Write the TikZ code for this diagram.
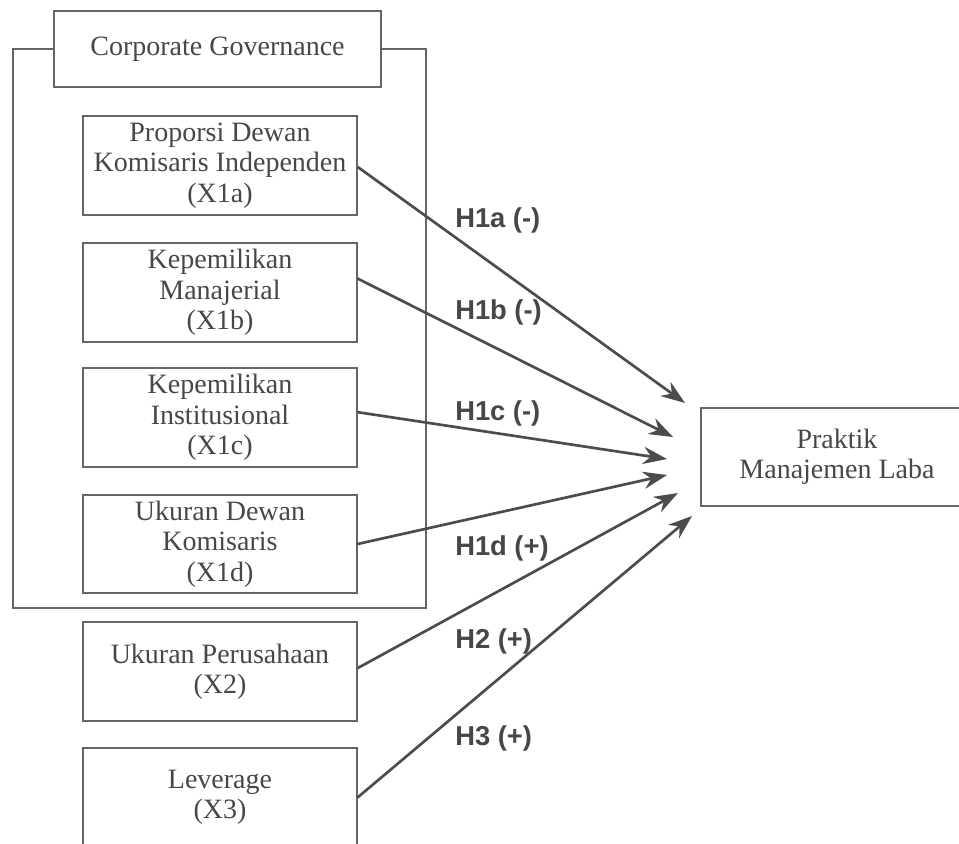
\documentclass[tikz,border=0pt]{standalone}
\usepackage{fontspec}
\setmainfont{Liberation Serif}
\newfontfamily\hypfont{Liberation Sans}
\usetikzlibrary{arrows.meta}

\tikzset{
  varbox/.style={draw=\BOXCOLOR, line width=1.3pt, fill=white, minimum width=205pt, minimum height=74pt,
    inner sep=0pt, align=center, text=\TEXTCOLOR, font=\fontsize{21}{22.8}\selectfont},
  hyplabel/.style={anchor=west, inner sep=0pt, text=\TEXTCOLOR, font=\hypfont\bfseries\fontsize{20.5}{22}\selectfont},
  hyparrow/.style={draw=\LINECOLOR, line width=2pt, -{Stealth[length=18pt,width=13pt]}}
}

\begin{document}
\begin{tikzpicture}[x=0.75pt,y=-0.75pt]

\def\BOXCOLOR{black!60}
\def\TEXTCOLOR{black!72}
\def\LINECOLOR{black!70}
	\clip (0,0) rectangle (959,843);
	\fill[white] (0,0) rectangle (959,843);

	% group frame and its title
	\draw[\BOXCOLOR,line width=1.3pt] (13,49) rectangle (426,608);
	\node[varbox, minimum width=245pt, minimum height=57pt] (cg) at (217.5,49) {Corporate Governance};

	% independent variables
	\node[varbox] (x1a) at (220,165.5) {Proporsi Dewan\\Komisaris Independen\\(X1a)};
	\node[varbox] (x1b) at (220,292.5) {Kepemilikan\\Manajerial\\(X1b)};
	\node[varbox] (x1c) at (220,417.5) {Kepemilikan\\Institusional\\(X1c)};
	\node[varbox] (x1d) at (220,544) {Ukuran Dewan\\Komisaris\\(X1d)};
	\node[varbox] (x2) at (220,671.5) {Ukuran Perusahaan\\(X2)};
	\node[varbox] (x3) at (220,797.5) {Leverage\\(X3)};

	% dependent variable
	\node[varbox, minimum width=204pt, minimum height=73.5pt] (laba) at (837,457) {Praktik\\Manajemen Laba};

	% arrow tips in front of the dependent box
	\coordinate (t1a) at (685,403);
	\coordinate (t1b) at (673,437);
	\coordinate (t1c) at (667,459);
	\coordinate (t1d) at (667,475);
	\coordinate (t2) at (678,493);
	\coordinate (t3) at (692,516);

	\draw[hyparrow] ([yshift=-1pt]x1a.east) -- (t1a);
	\draw[hyparrow] ([yshift=10.5pt]x1b.east) -- (t1b);
	\draw[hyparrow] ([yshift=4pt]x1c.east) -- (t1c);
	\draw[hyparrow] (x1d.east) -- (t1d);
	\draw[hyparrow] ([yshift=2.5pt]x2.east) -- (t2);
	\draw[hyparrow] (x3.east) -- (t3);

	% hypothesis labels
	\node[hyplabel] (h1a) at (455,220) {H1a (-)};
	\node[hyplabel] (h1b) at (455,312) {H1b (-)};
	\node[hyplabel] (h1c) at (455,413) {H1c (-)};
	\node[hyplabel] (h1d) at (455,548) {H1d (+)};
	\node[hyplabel] (h2) at (455,641) {H2 (+)};
	\node[hyplabel] (h3) at (455,738) {H3 (+)};

\end{tikzpicture}
\end{document}
